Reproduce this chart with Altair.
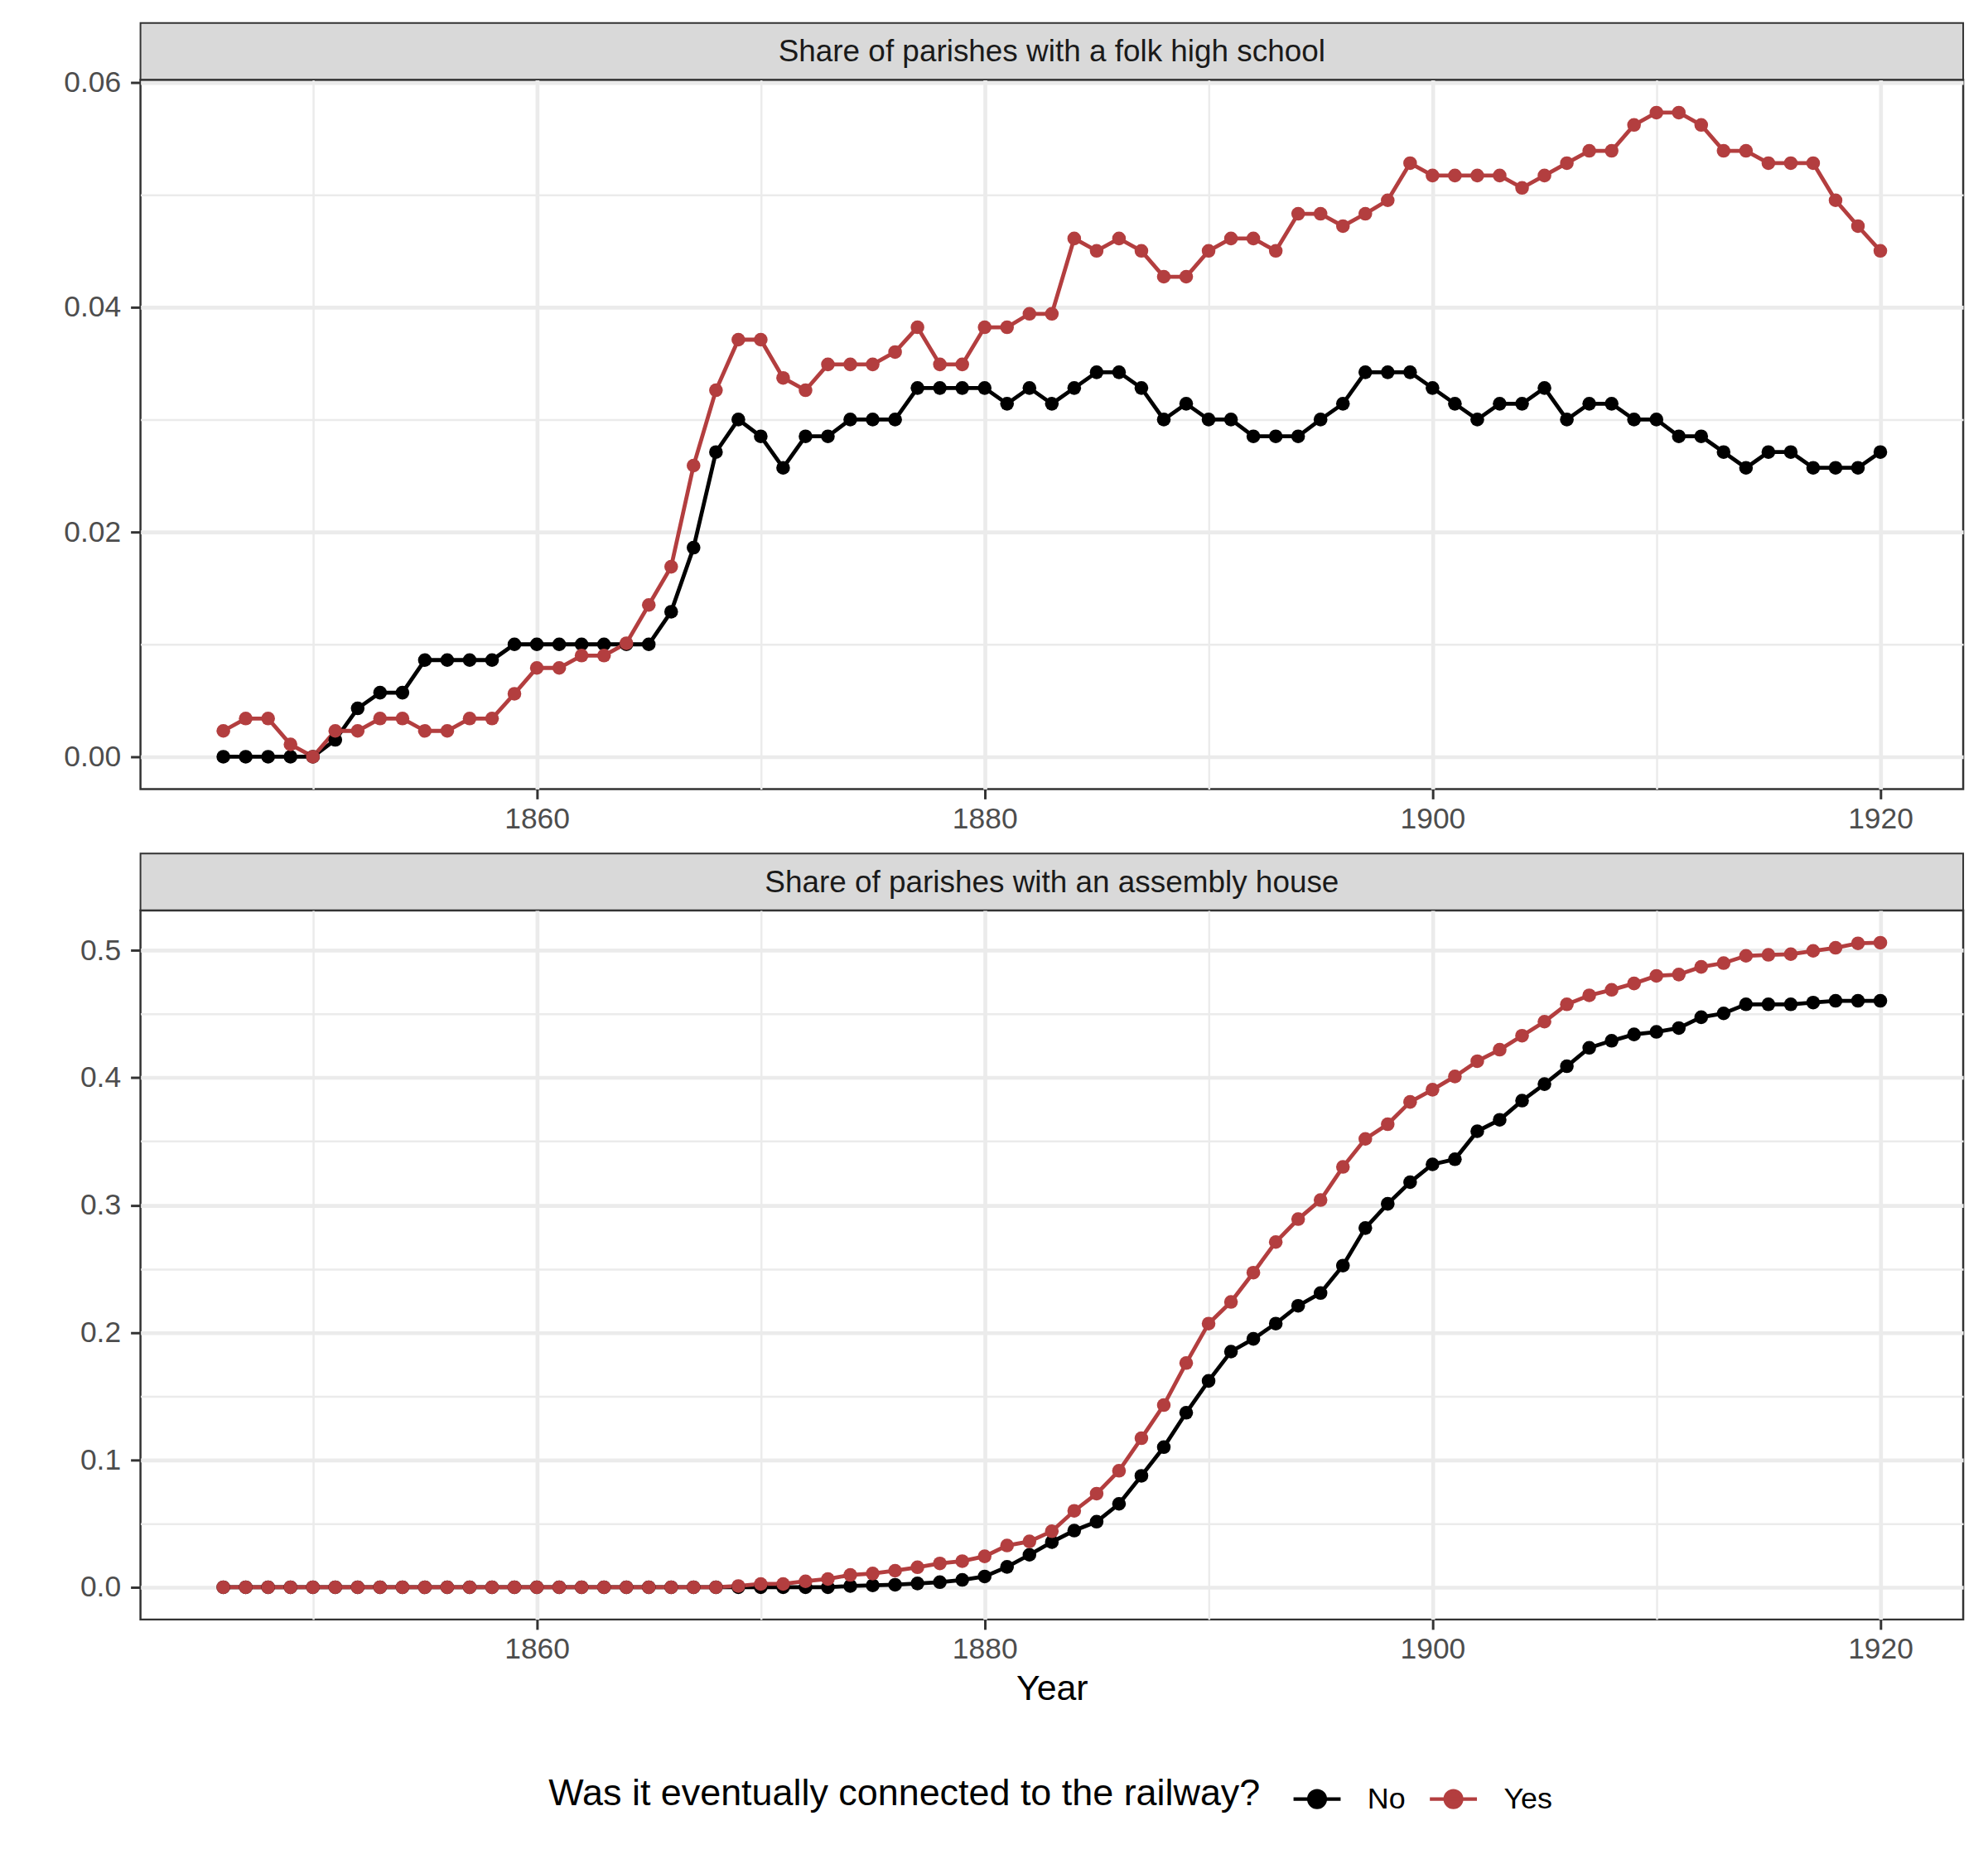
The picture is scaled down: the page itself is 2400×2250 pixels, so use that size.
import altair as alt
import pandas as pd

years = list(range(1846, 1921))

folk_no = [0, 0, 0, 0, 0, 0.0015, 0.0043, 0.0057, 0.0057, 0.0086, 0.0086, 0.0086, 0.0086, 0.0100,
           0.0100, 0.0100, 0.0100, 0.0100, 0.0100, 0.0100, 0.0129, 0.0186, 0.0271, 0.0300, 0.0285,
           0.0257, 0.0285, 0.0285, 0.0300, 0.0300, 0.0300, 0.0328, 0.0328, 0.0328, 0.0328, 0.0314,
           0.0328, 0.0314, 0.0328, 0.0342, 0.0342, 0.0328, 0.0300, 0.0314, 0.0300, 0.0300, 0.0285,
           0.0285, 0.0285, 0.0300, 0.0314, 0.0342, 0.0342, 0.0342, 0.0328, 0.0314, 0.0300, 0.0314,
           0.0314, 0.0328, 0.0300, 0.0314, 0.0314, 0.0300, 0.0300, 0.0285, 0.0285, 0.0271, 0.0257,
           0.0271, 0.0271, 0.0257, 0.0257, 0.0257, 0.0271]

folk_yes = [0.0023, 0.0034, 0.0034, 0.0011, 0, 0.0023, 0.0023, 0.0034, 0.0034, 0.0023, 0.0023, 0.0034,
            0.0034, 0.0056, 0.0079, 0.0079, 0.0090, 0.0090, 0.0101, 0.0135, 0.0169, 0.0259, 0.0326,
            0.0371, 0.0371, 0.0337, 0.0326, 0.0349, 0.0349, 0.0349, 0.0360, 0.0382, 0.0349, 0.0349,
            0.0382, 0.0382, 0.0394, 0.0394, 0.0461, 0.0450, 0.0461, 0.0450, 0.0427, 0.0427, 0.0450,
            0.0461, 0.0461, 0.0450, 0.0483, 0.0483, 0.0472, 0.0483, 0.0495, 0.0528, 0.0517, 0.0517,
            0.0517, 0.0517, 0.0506, 0.0517, 0.0528, 0.0539, 0.0539, 0.0562, 0.0573, 0.0573, 0.0562,
            0.0539, 0.0539, 0.0528, 0.0528, 0.0528, 0.0495, 0.0472, 0.0450]

assembly_no = [0] * 27 + [0, 0.001, 0.0015, 0.002, 0.003, 0.004, 0.0058, 0.0085, 0.016, 0.0255,
               0.0355, 0.0445, 0.0515, 0.0655, 0.0875, 0.110, 0.137, 0.162, 0.185, 0.195, 0.207,
               0.221, 0.231, 0.2525, 0.282, 0.301, 0.318, 0.332, 0.336, 0.358, 0.367, 0.382, 0.395,
               0.409, 0.4235, 0.429, 0.434, 0.436, 0.439, 0.4475, 0.4505, 0.4576, 0.4576, 0.4576,
               0.459, 0.4604, 0.4604, 0.4604]

assembly_yes = [0] * 23 + [0.001, 0.0026, 0.0026, 0.0047, 0.0065, 0.0097, 0.0108, 0.013, 0.0157,
                0.0187, 0.0205, 0.0243, 0.0328, 0.036, 0.0440, 0.060, 0.0735, 0.0915, 0.117, 0.143,
                0.176, 0.207, 0.224, 0.247, 0.271, 0.289, 0.304, 0.330, 0.352, 0.3635, 0.381, 0.3906,
                0.401, 0.413, 0.422, 0.433, 0.444, 0.4576, 0.4647, 0.469, 0.474, 0.480, 0.481, 0.487,
                0.490, 0.4957, 0.4965, 0.497, 0.4996, 0.502, 0.5055, 0.506]

groups = ["No", "Yes"]
colors = ["#000000", "#B33E3F"]
titles = ["Share of parishes with a folk high school", "Share of parishes with an assembly house"]

W, H, SH = 2206, 858, 69
GAP = 78
FONT = "Liberation Sans, Arial, Helvetica, sans-serif"


def frame(no, yes):
    return pd.DataFrame({
        "year": years + years,
        "value": no + yes,
        "rail": ["No"] * len(years) + ["Yes"] * len(years),
    })


legend_path = "M-1,0L1,0M-0.35,0A0.35,0.35 0 1,0 0.35,0A0.35,0.35 0 1,0 -0.35,0Z"

legend = alt.Legend(
    title="Was it eventually connected to the railway?",
    orient="none", legendX=494, legendY=2118, direction="horizontal",
    titleOrient="left", titleFontSize=45, titleFontWeight="normal", titleColor="black",
    titleLimit=3000, titlePadding=37, labelFontSize=36, labelColor="black", labelOffset=30,
    columnPadding=20, symbolType=legend_path, symbolSize=3249, symbolStrokeWidth=4.2,
    symbolOpacity=1,
)

xgrid_test = "datum.value % 20 == 0"
xaxis_common = dict(
    values=[1850, 1860, 1870, 1880, 1890, 1900, 1910, 1920],
    labelExpr="datum.value % 20 == 0 ? datum.value : ''",
    gridWidth={"condition": {"test": xgrid_test, "value": 4.7}, "value": 2.5},
    tickOpacity={"condition": {"test": xgrid_test, "value": 1}, "value": 0},
    tickSize=12, tickWidth=3, labelPadding=7,
)


def panel(no, yes, ydomain, yvalues, ytest, yfmt, show_title):
    df = frame(no, yes)
    x = alt.X("year:Q", scale=alt.Scale(domain=[1842.3, 1923.7], nice=False, zero=False),
              axis=alt.Axis(title="Year" if show_title else None, titleFontSize=43,
                            titleFontWeight="normal", titleColor="black", titlePadding=8,
                            **xaxis_common))
    y = alt.Y("value:Q", scale=alt.Scale(domain=ydomain, nice=False, zero=False),
              axis=alt.Axis(title=None, values=yvalues,
                            labelExpr=f"{ytest} ? format(datum.value, '{yfmt}') : ''",
                            gridWidth={"condition": {"test": ytest, "value": 4.7}, "value": 2.5},
                            tickOpacity={"condition": {"test": ytest, "value": 1}, "value": 0},
                            tickSize=12, tickWidth=3, labelPadding=12))
    stroke = alt.Stroke("rail:N", scale=alt.Scale(domain=groups, range=colors), legend=legend)
    fill = alt.Fill("rail:N", scale=alt.Scale(domain=groups, range=colors), legend=legend)
    base = alt.Chart(df)
    line = base.mark_line(strokeWidth=4.8).encode(x=x, y=y, stroke=stroke)
    pts = base.mark_point(filled=True, size=275, opacity=1).encode(x=x, y=y, fill=fill)
    return alt.layer(line, pts).properties(
        width=W, height=H,
        view=alt.ViewBackground(stroke="#333333", strokeWidth=2.5),
    )


def strip(title, gap):
    sdf = pd.DataFrame({"title": [title]})
    b = alt.Chart(sdf)
    rect = b.mark_rect(fill="#D9D9D9", stroke="#333333", strokeWidth=2).encode(
        x=alt.value(0), x2=alt.value(W), y=alt.value(gap), y2=alt.value(gap + SH))
    txt = b.mark_text(fontSize=37, color="#1A1A1A", baseline="middle", align="center",
                      font=FONT).encode(
        x=alt.value(W / 2), y=alt.value(gap + SH / 2 + 1), text="title:N")
    return alt.layer(rect, txt).properties(width=W, height=gap + SH,
                                           view=alt.ViewBackground(stroke=None))


top = panel(folk_no, folk_yes, [-0.00287, 0.0602],
            [0, 0.01, 0.02, 0.03, 0.04, 0.05, 0.06],
            "round(datum.value * 100) % 2 == 0", ".2f", False)
bottom = panel(assembly_no, assembly_yes, [-0.0253, 0.5313],
               [0, 0.05, 0.1, 0.15, 0.2, 0.25, 0.3, 0.35, 0.4, 0.45, 0.5],
               "round(datum.value * 20) % 2 == 0", ".1f", True)

chart = alt.vconcat(
    strip(titles[0], 0), top, strip(titles[1], GAP), bottom,
    spacing=0, bounds="flush",
).properties(
    padding={"left": 67, "top": 16, "right": 20, "bottom": 20},
    background="white",
).configure(font=FONT).configure_axis(
    domain=False, gridColor="#EBEBEB", tickColor="#333333",
    labelColor="#4D4D4D", labelFontSize=35.5, labelFont=FONT, titleFont=FONT,
).configure_legend(labelFont=FONT, titleFont=FONT)

chart.save("out.html", embed_options={"renderer": "svg", "actions": False})
